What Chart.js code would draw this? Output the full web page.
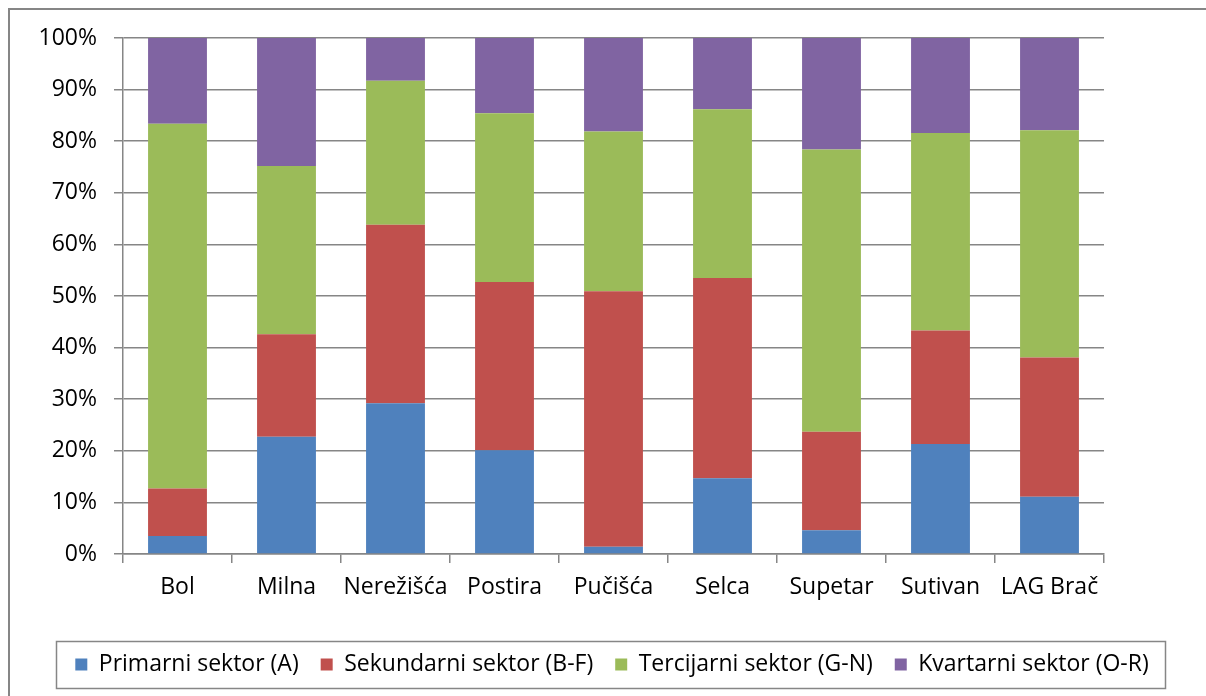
<!DOCTYPE html>
<html>
<head>
<meta charset="utf-8">
<script src="https://cdn.jsdelivr.net/npm/chart.js@4.4.1/dist/chart.umd.min.js"></script>
<style>
  html, body { margin: 0; padding: 0; background: #fff; }
  #wrap { position: absolute; left: 0; top: 0; width: 1206px; height: 696px; }
</style>
</head>
<body>
<div id="wrap"><canvas id="sektorChart"></canvas></div>
<script>
const categories = ['Bol', 'Milna', 'Nerežišća', 'Postira', 'Pučišća', 'Selca', 'Supetar', 'Sutivan', 'LAG Brač']
const seriesNames = ['Primarni sektor (A)', 'Sekundarni sektor (B-F)', 'Tercijarni sektor (G-N)', 'Kvartarni sektor (O-R)']
const primarni = [3.5, 22.7, 29.2, 20.1, 1.4, 14.7, 4.6, 21.3, 11.1]
const sekundarni = [9.2, 19.9, 34.6, 32.6, 49.5, 38.8, 19.1, 22.0, 27.0]
const tercijarni = [70.7, 32.6, 27.9, 32.7, 31.0, 32.7, 54.7, 38.3, 44.0]
const kvartarni = [16.6, 24.8, 8.3, 14.6, 18.1, 13.8, 21.6, 18.4, 17.9]
const yTicks = [0, 10, 20, 30, 40, 50, 60, 70, 80, 90, 100]

const colors = ['#4F81BD', '#C0504D', '#9BBB59', '#8064A2']
const gridColor = '#868686'
const fontSize = 23
const font = { family: '"Open Sans", Lato, sans-serif', size: fontSize }
const legendPad = 22

// frame round the whole picture and box round the legend
const framePlugin = {
    id: 'frames',
    beforeDraw(chart) {
        const ctx = chart.ctx
        ctx.save()
        ctx.strokeStyle = '#868686'
        ctx.lineWidth = 2
        ctx.strokeRect(9, 9, 1400, 1000)
        ctx.restore()
    },
    afterDraw(chart) {
        const lg = chart.legend
        if (!lg) return
        const rowWidth = (lg.lineWidths && lg.lineWidths[0]) || 1090
        const cx = lg.left + lg.width / 2
        const mid = lg.top + legendPad + fontSize / 2
        const left = cx - rowWidth / 2 - 8
        const right = cx + rowWidth / 2 + 6
        const ctx = chart.ctx
        ctx.save()
        ctx.strokeStyle = '#868686'
        ctx.lineWidth = 1.5
        ctx.strokeRect(Math.round(left) + 0.5, Math.round(mid - 23.5) + 0.5, Math.round(right - left), 47)
        ctx.restore()
    }
}

const ctx = document.getElementById('sektorChart').getContext('2d')
new Chart(ctx, {
    type: 'bar',
    data: {
        labels: categories,
        datasets: [primarni, sekundarni, tercijarni, kvartarni].map((vals, i) => ({
            label: seriesNames[i],
            data: vals,
            backgroundColor: colors[i],
            borderWidth: 0,
            barPercentage: 0.54,
            categoryPercentage: 1
        }))
    },
    options: {
        responsive: true,
        maintainAspectRatio: false,
        animation: false,
        layout: { padding: { top: 38, right: 0, left: 18, bottom: 10 } },
        plugins: {
            tooltip: { enabled: false },
            legend: {
                position: 'bottom',
                labels: {
                    boxWidth: 12,
                    boxHeight: 12,
                    padding: legendPad,
                    color: '#000',
                    font: font
                }
            }
        },
        scales: {
            x: {
                stacked: true,
                afterFit: scale => { scale.height = 77 },
                grid: {
                    drawOnChartArea: false,
                    drawTicks: true,
                    tickLength: 9,
                    color: gridColor,
                    lineWidth: 1.5
                },
                border: { color: gridColor, width: 1.5 },
                ticks: {
                    color: '#000',
                    font: font,
                    padding: 11,
                    autoSkip: false,
                    minRotation: 0,
                    maxRotation: 0
                }
            },
            y: {
                stacked: true,
                min: 0,
                max: 100,
                afterFit: scale => { scale.width = 105 },
                afterBuildTicks: scale => { scale.ticks = yTicks.map(v => ({ value: v })) },
                grid: {
                    color: gridColor,
                    lineWidth: 1.5,
                    tickLength: 9
                },
                border: { color: gridColor, width: 1.5 },
                ticks: {
                    color: '#000',
                    font: font,
                    padding: 17,
                    callback: v => v + '%'
                }
            },
            // empty right-hand axis, only keeps the space right of the bars
            yRight: {
                position: 'right',
                min: 0,
                max: 100,
                afterFit: scale => { scale.width = 102 },
                grid: { display: false },
                border: { display: false },
                ticks: { display: false }
            }
        }
    },
    plugins: [framePlugin]
})
</script>
</body>
</html>
